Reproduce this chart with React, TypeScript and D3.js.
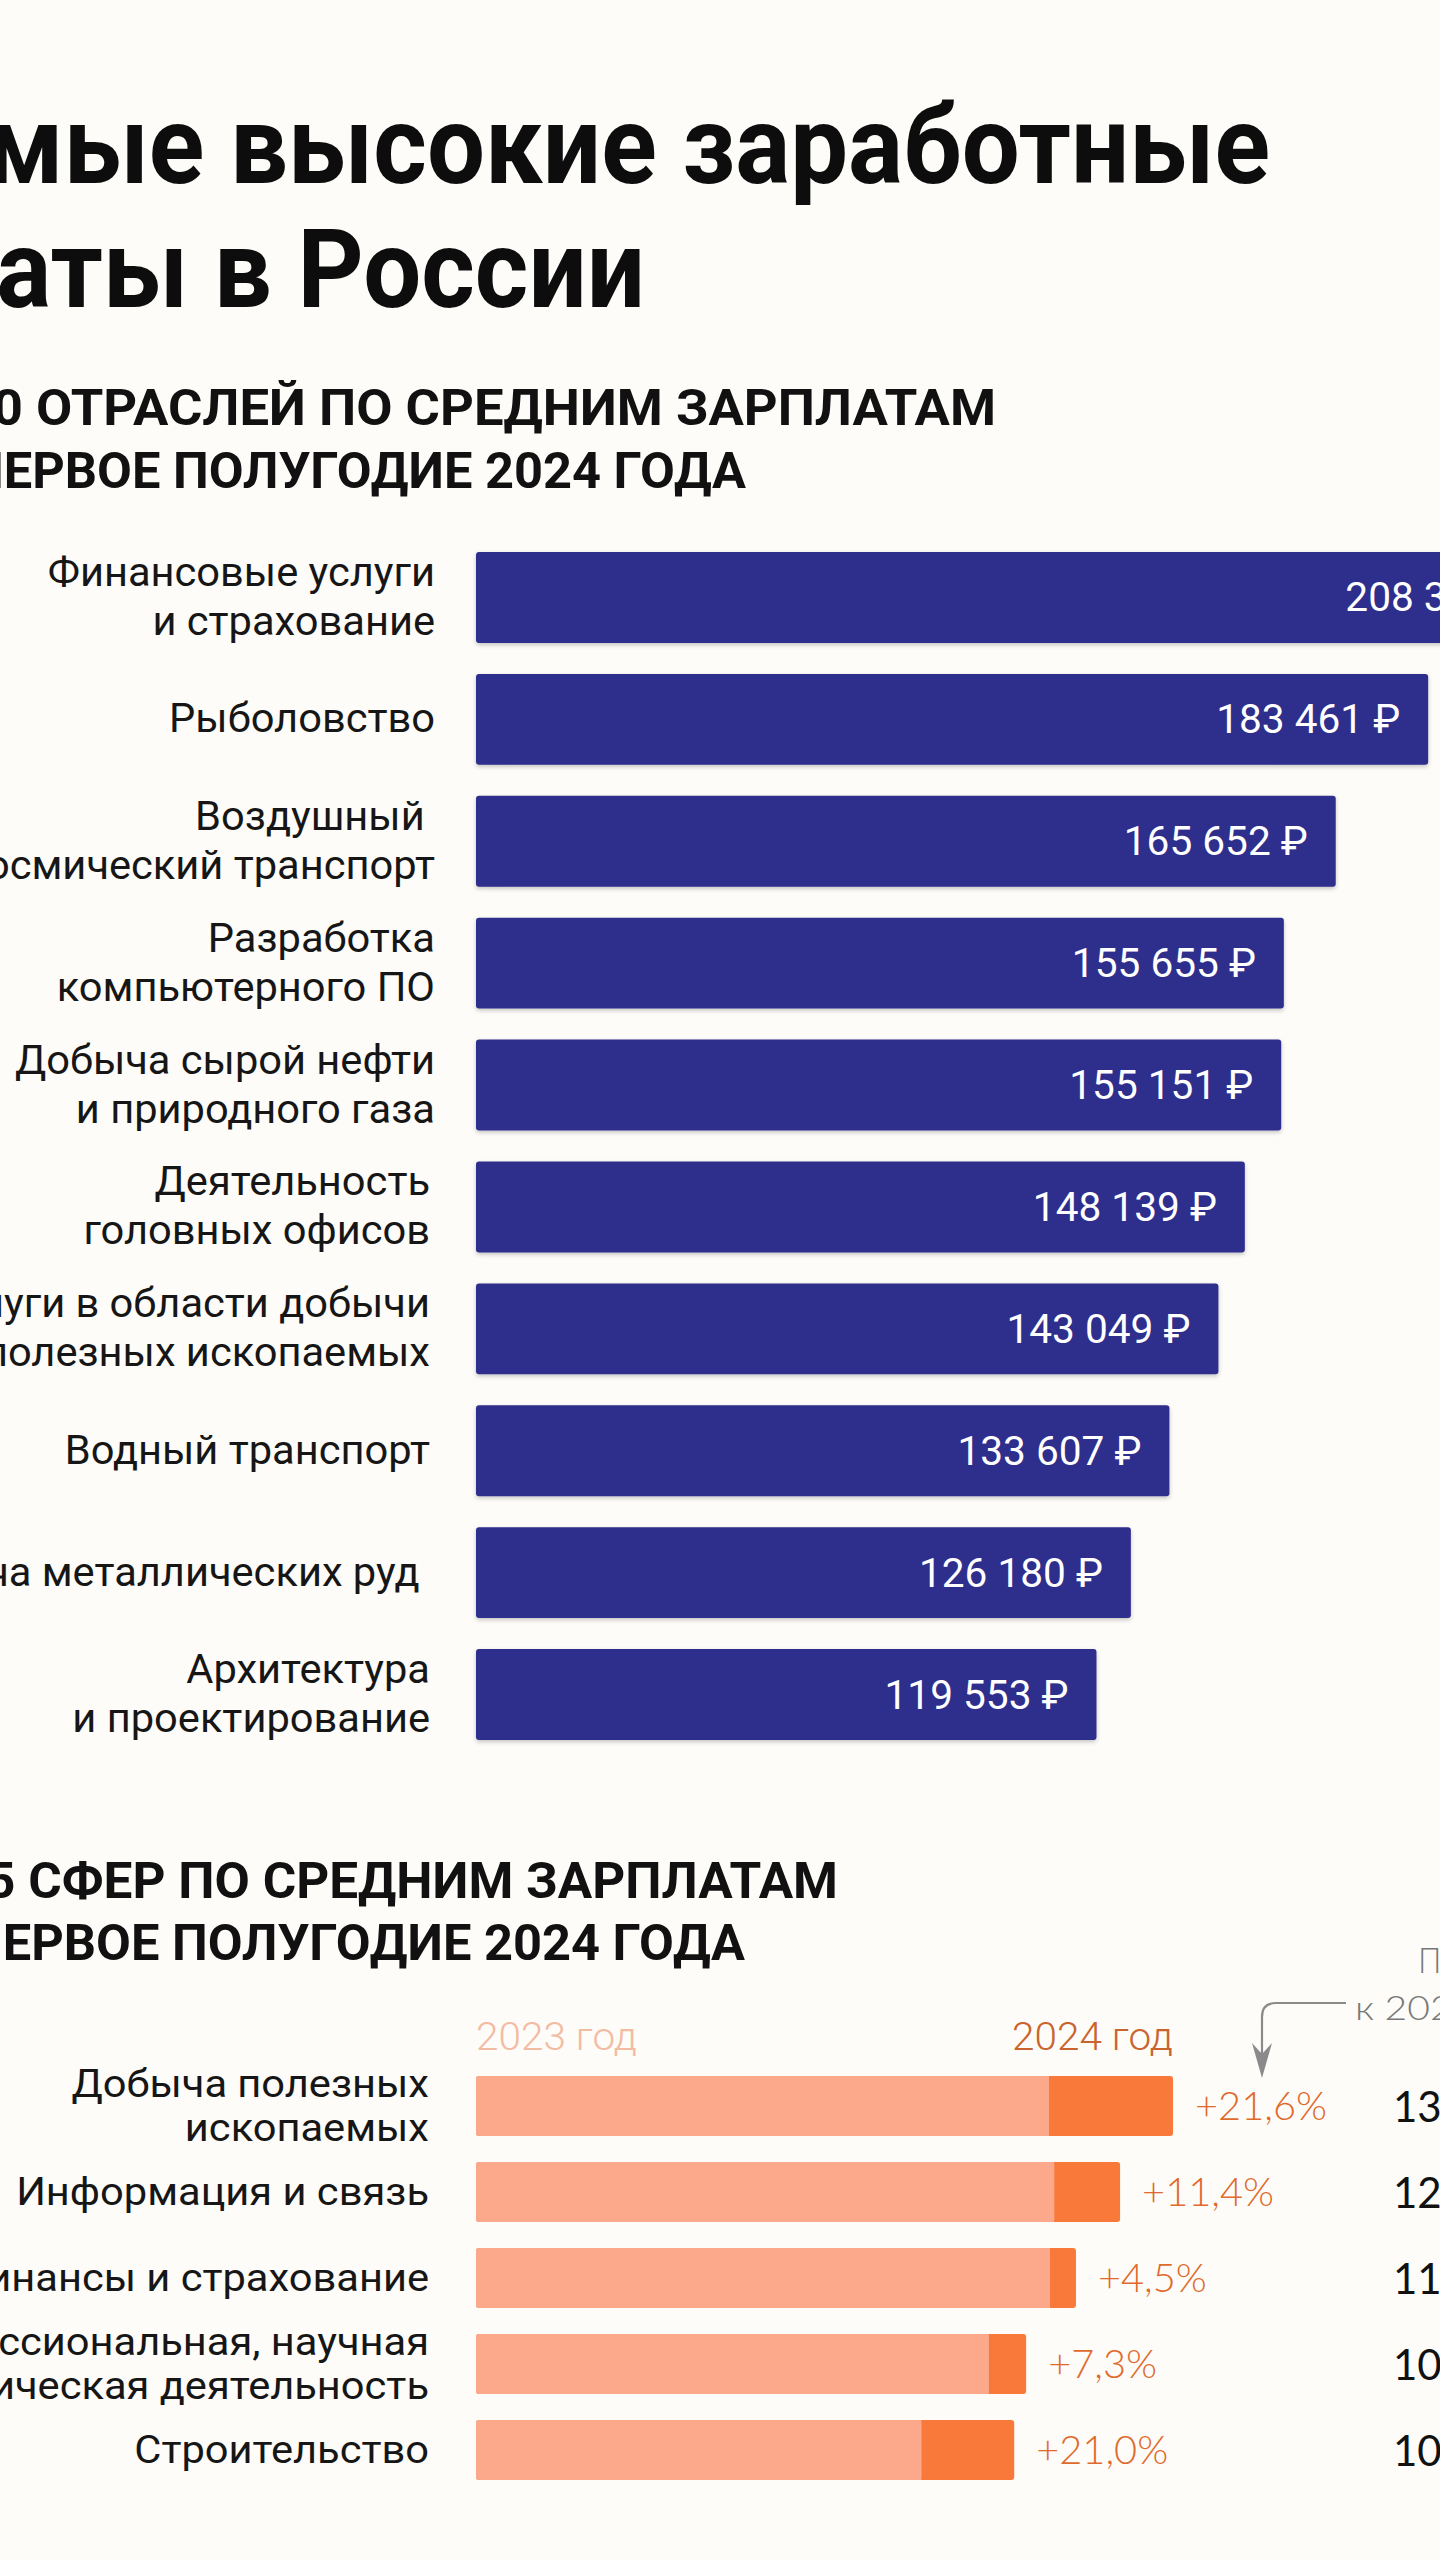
import React, { useMemo } from "react";
import * as d3 from "d3";

// ---------- data ----------
const titleLines = ["Самые высокие заработные", "платы в России"];
const subtitle1 = ["ТОП-10 ОТРАСЛЕЙ ПО СРЕДНИМ ЗАРПЛАТАМ", "В ПЕРВОЕ ПОЛУГОДИЕ 2024 ГОДА"];
const subtitle2 = ["ТОП-5 СФЕР ПО СРЕДНИМ ЗАРПЛАТАМ", "В ПЕРВОЕ ПОЛУГОДИЕ 2024 ГОДА"];

const industries: string[][] = [
  ["Финансовые услуги", "и страхование"],
  ["Рыболовство"],
  ["Воздушный\u00a0", "и космический транспорт"],
  ["Разработка", "компьютерного ПО"],
  ["Добыча сырой нефти", "и природного газа"],
  ["Деятельность", "головных офисов"],
  ["Услуги в области добычи", "полезных ископаемых"],
  ["Водный транспорт"],
  ["Добыча металлических руд\u00a0"],
  ["Архитектура", "и проектирование"],
];
const salaries = [208346, 183461, 165652, 155655, 155151, 148139, 143049, 133607, 126180, 119553];

const spheres: string[][] = [
  ["Добыча полезных", "ископаемых"],
  ["Информация и связь"],
  ["Финансы и страхование"],
  ["Профессиональная, научная", "и техническая деятельность"],
  ["Строительство"],
];
const wage2023 = [110400, 111400, 110600, 98800, 85800];
const wage2024 = [134300, 124100, 115600, 106000, 103700];
const growthLabels = ["+21,6%", "+11,4%", "+4,5%", "+7,3%", "+21,0%"];
const yearLabels = ["2023 год", "2024 год"];
const noteLines = ["Прирост", "к 2023 году"];

// ---------- helpers ----------
const W = 1440;
const H = 2560;
const BG = "#fdfcf8";
const NAVY = "#2d2f8d";
const SALMON = "#fca98b";
const ORANGE = "#f8793a";

const F_TITLE = "700 110px Roboto";
const F_SUB = "700 50px Roboto";
const F_LAB = "400 41px Roboto";
const F_LAB2 = "400 38px Roboto";
const F_VAL = "400 40px Roboto";
const F_YEAR = "300 38px Roboto";
const F_PCT = "300 39px Lato";
const F_NUM = "400 42px Lato";
const F_NOTE1 = "300 36px Lato";
const F_NOTE2 = "300 34px Lato";

let _ctx: CanvasRenderingContext2D | null = null;
function tw(text: string, font: string) {
  if (!_ctx) _ctx = document.createElement("canvas").getContext("2d");
  _ctx!.font = font;
  return _ctx!.measureText(text).width;
}

const fmtNum = (v: number) => d3.format(",")(v).replace(/,/g, " ") + " ₽";

function T(props: {
  x: number;
  y: number;
  s?: number;
  anchor?: string;
  font: string;
  fill: string;
  children: React.ReactNode;
}) {
  const { x, y, s = 1, anchor = "end", font, fill, children } = props;
  return (
    <text
      transform={`translate(${x},${y}) scale(${s},1)`}
      textAnchor={anchor}
      style={{ font }}
      fill={fill}
    >
      {children}
    </text>
  );
}

export default function App() {
  const sc = useMemo(
    () => ({
      title: 1040 / tw("высокие заработные", F_TITLE),
      sub1a: 960 / tw("ОТРАСЛЕЙ ПО СРЕДНИМ ЗАРПЛАТАМ", F_SUB),
      sub2a: 810 / tw("СФЕР ПО СРЕДНИМ ЗАРПЛАТАМ", F_SUB),
      subb: 714 / tw("РВОЕ ПОЛУГОДИЕ 2024 ГОДА", F_SUB),
      lab: 266 / tw("Рыболовство", F_LAB),
      lab2: 266 / tw("Рыболовство", F_LAB2),
      val: 184 / tw("183 461 ₽", F_VAL),
      year: 161 / tw("2024 год", F_YEAR),
      pct: 132 / tw("+21,6%", F_PCT),
    }),
    []
  );

  const x = d3.scaleLinear().domain([0, 200000]).range([476, 1514]);

  const y1 = d3
    .scaleBand<number>()
    .domain(d3.range(industries.length))
    .range([552, 1740])
    .paddingInner(0.254)
    .paddingOuter(0);

  const y2 = d3
    .scaleBand<number>()
    .domain(d3.range(spheres.length))
    .range([2076, 2480])
    .paddingInner(0.302)
    .paddingOuter(0);

  return (
    <svg
      width={W}
      height={H}
      viewBox={`0 0 ${W} ${H}`}
      style={{ position: "absolute", left: 0, top: 0, display: "block", overflow: "hidden" }}
    >
      <defs>
        <filter id="sh" x="-5%" y="-20%" width="110%" height="150%">
          <feDropShadow dx="0" dy="2" stdDeviation="2" floodColor="#000" floodOpacity="0.22" />
        </filter>
      </defs>
      <rect x={0} y={0} width={W} height={H} fill={BG} />

      {/* title */}
      <T x={1270} y={183} s={sc.title} font={F_TITLE} fill="#0d0d0d">
        {titleLines[0]}
      </T>
      <T x={645} y={307} s={sc.title} font={F_TITLE} fill="#0d0d0d">
        {titleLines[1]}
      </T>

      {/* subtitle 1 */}
      <T x={996} y={425} s={sc.sub1a} font={F_SUB} fill="#111">
        {subtitle1[0]}
      </T>
      <T x={746} y={488} s={sc.subb} font={F_SUB} fill="#111">
        {subtitle1[1]}
      </T>

      {/* chart 1 */}
      {industries.map((lines, i) => {
        const top = y1(i)!;
        const bw = y1.bandwidth();
        const cy = top + bw / 2;
        const lh = 49;
        const x1 = x(salaries[i]);
        const right = i < 5 ? 435 : 430;
        return (
          <g key={"b" + i}>
            <rect
              x={x(0)}
              y={top}
              width={x1 - x(0)}
              height={bw}
              rx={3}
              fill={NAVY}
              filter="url(#sh)"
            />
            <T x={x1 - 28} y={cy + 14} s={sc.val} font={F_VAL} fill="#ffffff">
              {fmtNum(salaries[i])}
            </T>
            {lines.map((ln, j) => (
              <T
                key={j}
                x={right}
                y={cy + 13 + (j - (lines.length - 1) / 2) * lh}
                s={sc.lab}
                font={F_LAB}
                fill="#161616"
              >
                {ln}
              </T>
            ))}
          </g>
        );
      })}

      {/* subtitle 2 */}
      <T x={838} y={1898} s={sc.sub2a} font={F_SUB} fill="#111">
        {subtitle2[0]}
      </T>
      <T x={745} y={1960} s={sc.subb} font={F_SUB} fill="#111">
        {subtitle2[1]}
      </T>

      {/* year labels */}
      <T x={x(0)} y={2050} s={sc.year} anchor="start" font={F_YEAR} fill="#f3bba2">
        {yearLabels[0]}
      </T>
      <T x={x(wage2024[0])} y={2050} s={sc.year} anchor="end" font={F_YEAR} fill="#c9642f">
        {yearLabels[1]}
      </T>

      {/* note + arrow */}
      <T x={1418} y={1973} s={0.9} anchor="start" font={F_NOTE1} fill="#777">
        {noteLines[0]}
      </T>
      <T x={1355} y={2020} s={1.15} anchor="start" font={F_NOTE2} fill="#777">
        {noteLines[1]}
      </T>
      <path
        d="M1346,2003 H1276 Q1262,2003 1262,2017 V2054"
        fill="none"
        stroke="#8a8a8a"
        strokeWidth={2.2}
      />
      <path d="M1262,2078 L1252,2043 L1262,2054 L1272,2043 Z" fill="#8a8a8a" />

      {/* chart 2 */}
      {spheres.map((lines, i) => {
        const top = y2(i)!;
        const bw = y2.bandwidth();
        const cy = top + bw / 2;
        const lh = 44.5;
        const xa = x(wage2023[i]);
        const xb = x(wage2024[i]);
        return (
          <g key={"s" + i}>
            <rect x={x(0)} y={top} width={xb - x(0)} height={bw} rx={3} fill={ORANGE} />
            <rect x={x(0)} y={top} width={xa - x(0)} height={bw} rx={3} fill={SALMON} />
            <rect x={xa - 6} y={top} width={6} height={bw} fill={SALMON} />
            <T x={xb + 22} y={cy + 14} s={sc.pct} anchor="start" font={F_PCT} fill="#e06a2c">
              {growthLabels[i]}
            </T>
            <T x={1393} y={cy + 16} anchor="start" font={F_NUM} fill="#111">
              {fmtNum(wage2024[i])}
            </T>
            {lines.map((ln, j) => (
              <T
                key={j}
                x={429}
                y={cy + 13 + (j - (lines.length - 1) / 2) * lh}
                s={sc.lab2}
                font={F_LAB2}
                fill="#161616"
              >
                {ln}
              </T>
            ))}
          </g>
        );
      })}
    </svg>
  );
}
